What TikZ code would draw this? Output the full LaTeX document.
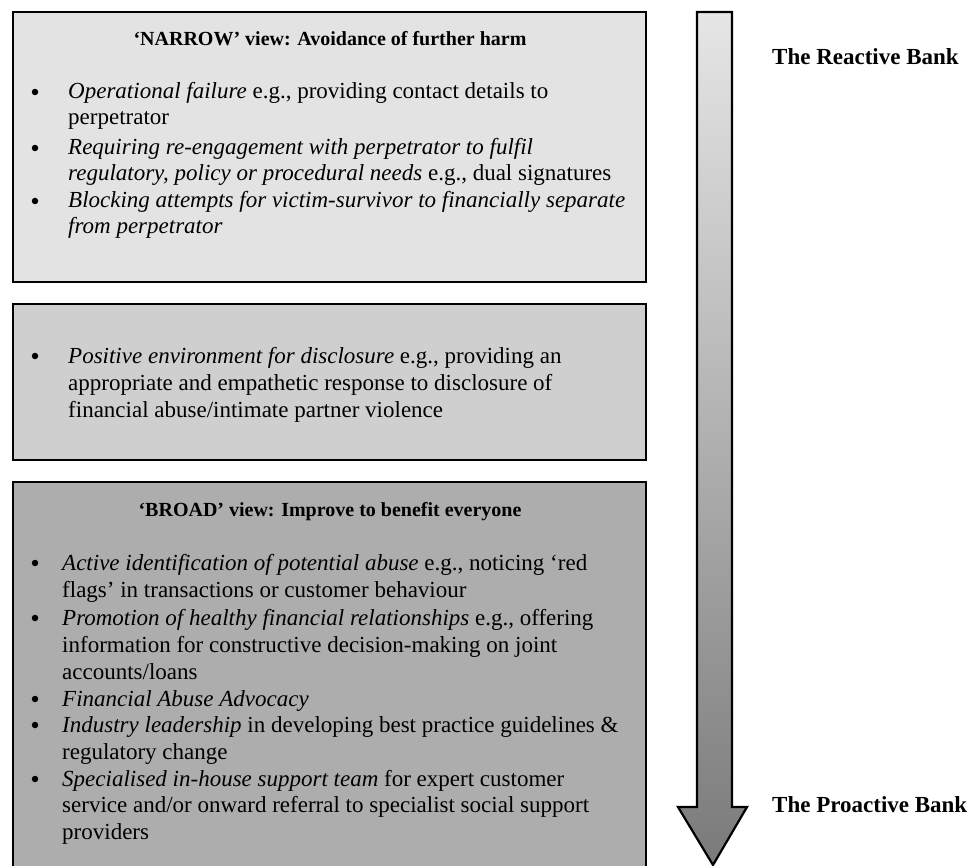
\documentclass[tikz,border=0pt]{standalone}
\usepackage{fontspec}
\setmainfont{Liberation Serif}
\definecolor{boxA}{HTML}{E3E3E3}
\definecolor{boxB}{HTML}{CFCFCF}
\definecolor{boxC}{HTML}{ADADAD}
\definecolor{arrTop}{HTML}{E6E6E6}
\definecolor{arrBot}{HTML}{7A7A7A}
\begin{document}
\begin{tikzpicture}[x=1pt,y=-1pt,
  panel/.style={draw=black,line width=2.2pt},
  txt/.style={anchor=base west,inner sep=0pt,font=\fontsize{23}{26}\selectfont},
  bul/.style={circle,fill=black,inner sep=0pt,minimum size=6.5pt},
  ttl/.style={anchor=base,inner sep=0pt,font=\fontsize{20}{24}\selectfont\bfseries},
  side/.style={anchor=base west,inner sep=0pt,font=\fontsize{23}{26}\selectfont\bfseries}]
\useasboundingbox[fill=white] (0,0) rectangle (979,866);
% panels
\filldraw[panel,fill=boxA] (13,12) rectangle (646,282);
\filldraw[panel,fill=boxB] (13,304) rectangle (646,460);
\filldraw[panel,fill=boxC] (13,482) rectangle (646,880);
% arrow
\shade[top color=arrTop,bottom color=arrBot] (697,12) -- (732,12) -- (732,807) -- (747,807) -- (713,865) -- (678,807) -- (697,807) -- cycle;
\draw[line width=2.2pt,line join=miter] (697,12) -- (732,12) -- (732,807) -- (747,807) -- (713,865) -- (678,807) -- (697,807) -- cycle;
% side labels
\node[side] (reactive) at (772,65) {The Reactive Bank};
\node[side] (proactive) at (772,812) {The Proactive Bank};
% box 1
\node[ttl] (t1) at (330,46) {‘NARROW’ view: Avoidance of further harm};
\node[bul] (d11) at (35,92) {};
\node[txt] (a11) at (68,99) {\textit{Operational failure} e.g., providing contact details to};
\node[txt] (a12) at (68,125) {perpetrator};
\node[bul] (d12) at (35,148) {};
\node[txt] (a13) at (68,155) {\textit{Requiring re-engagement with perpetrator to fulfil}};
\node[txt] (a14) at (68,181) {\textit{regulatory, policy or procedural needs} e.g., dual signatures};
\node[bul] (d13) at (35,201) {};
\node[txt] (a15) at (68,208) {\textit{Blocking attempts for victim-survivor to financially separate}};
\node[txt] (a16) at (68,234) {\textit{from perpetrator}};
% box 2
\node[bul] (d21) at (35,356) {};
\node[txt] (a21) at (68,363) {\textit{Positive environment for disclosure} e.g., providing an};
\node[txt] (a22) at (68,390) {appropriate and empathetic response to disclosure of};
\node[txt] (a23) at (68,417) {financial abuse/intimate partner violence};
% box 3
\node[ttl] (t3) at (330,516) {‘BROAD’ view: Improve to benefit everyone};
\node[bul] (d31) at (35,563) {};
\node[txt] (c11) at (62,570) {\textit{Active identification of potential abuse} e.g., noticing ‘red};
\node[txt] (c12) at (62,597) {flags’ in transactions or customer behaviour};
\node[bul] (d32) at (35,618) {};
\node[txt] (c21) at (62,625) {\textit{Promotion of healthy financial relationships} e.g., offering};
\node[txt] (c22) at (62,652) {information for constructive decision-making on joint};
\node[txt] (c23) at (62,679) {accounts/loans};
\node[bul] (d33) at (35,699) {};
\node[txt] (c31) at (62,706) {\textit{Financial Abuse Advocacy}};
\node[bul] (d34) at (35,725) {};
\node[txt] (c41) at (62,732) {\textit{Industry leadership} in developing best practice guidelines \&};
\node[txt] (c42) at (62,759) {regulatory change};
\node[bul] (d35) at (35,779) {};
\node[txt] (c51) at (62,786) {\textit{Specialised in-house support team} for expert customer};
\node[txt] (c52) at (62,812) {service and/or onward referral to specialist social support};
\node[txt] (c53) at (62,839) {providers};
\end{tikzpicture}
\end{document}
